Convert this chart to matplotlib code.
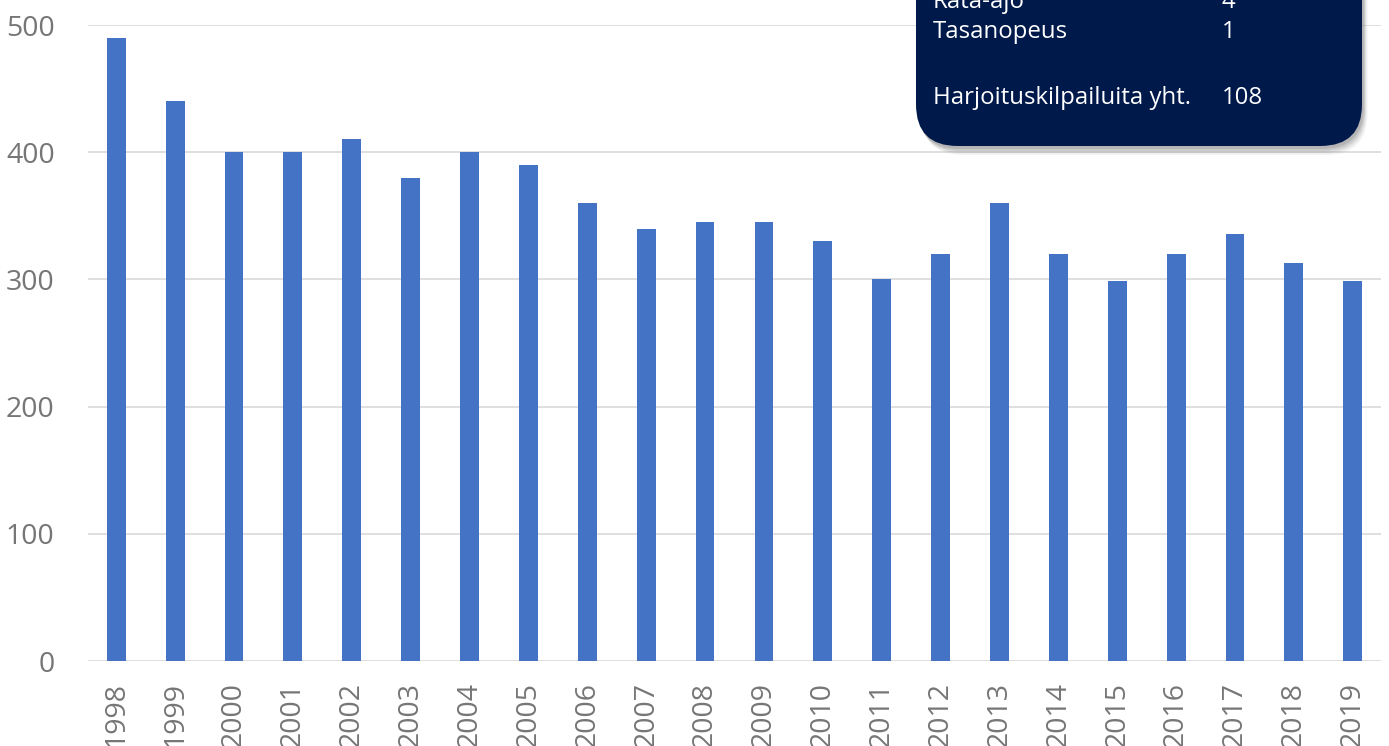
import numpy as np
import matplotlib.pyplot as plt
from matplotlib.patches import FancyBboxPatch

years = [str(y) for y in range(1998, 2020)]
counts = [490, 440, 400, 400, 410, 380, 400, 390, 360, 340, 345, 345,
          330, 300, 320, 360, 320, 299, 320, 336, 313, 299]

box_labels = ["Rata-ajo", "Tasanopeus", "", "Harjoituskilpailuita yht."]
box_values = ["4", "1", "", "108"]

W, H = 1389, 746
plt.rcParams['font.family'] = ['Open Sans', 'DejaVu Sans']

fig = plt.figure(figsize=(W / 100, H / 100), dpi=100)
ax = fig.add_axes([88 / W, (H - 661) / H, (1381 - 88) / W, (661 - 25) / H])

x = np.arange(len(years))
ax.bar(x, counts, width=0.32, color='#4472C4', zorder=3)

ax.set_xlim(-0.48, len(years) - 0.52)
ax.set_ylim(0, 500)
ax.set_yticks(np.arange(0, 501, 100))
ax.set_xticks(x)
ax.set_xticklabels(years, rotation=90)
ax.grid(axis='y', color='#d9d9d9', linewidth=1.2, zorder=0)
ax.tick_params(axis='both', length=0, labelsize=20.5, labelcolor='#767676')
ax.tick_params(axis='y', pad=24)
ax.tick_params(axis='x', pad=15)
for s in ax.spines.values():
    s.set_visible(False)

# info box (dark navy, top cropped)
def px(x0, y0):
    return x0 / W, 1 - y0 / H

bx0, bx1, by_bot, by_top = 916, 1362, 146, -60
# soft shadow: a few offset layers
for off, a in [(9, 0.08), (7, 0.12), (5, 0.16), (3, 0.2)]:
    sh = FancyBboxPatch(px(bx0 + off * 0.6, by_bot + off), (bx1 - bx0) / W, (by_bot - by_top) / H,
                        boxstyle="round,pad=0,rounding_size=0.03",
                        transform=fig.transFigure, facecolor='#606060', alpha=a,
                        edgecolor='none', zorder=5, mutation_aspect=W / H)
    fig.patches.append(sh)
box = FancyBboxPatch(px(bx0, by_bot), (bx1 - bx0) / W, (by_bot - by_top) / H,
                     boxstyle="round,pad=0,rounding_size=0.03",
                     transform=fig.transFigure, facecolor='#00194B',
                     edgecolor='none', zorder=6, mutation_aspect=W / H)
fig.patches.append(box)

line_y = [2, 32, 65, 98]
for lab, val, yy in zip(box_labels, box_values, line_y):
    fig.text(933 / W, 1 - yy / H, lab, color='white', fontsize=17.3,
             va='center', ha='left', zorder=7)
    fig.text(1222 / W, 1 - yy / H, val, color='white', fontsize=17.3,
             va='center', ha='left', zorder=7)

fig.savefig('out.png', dpi=100)
